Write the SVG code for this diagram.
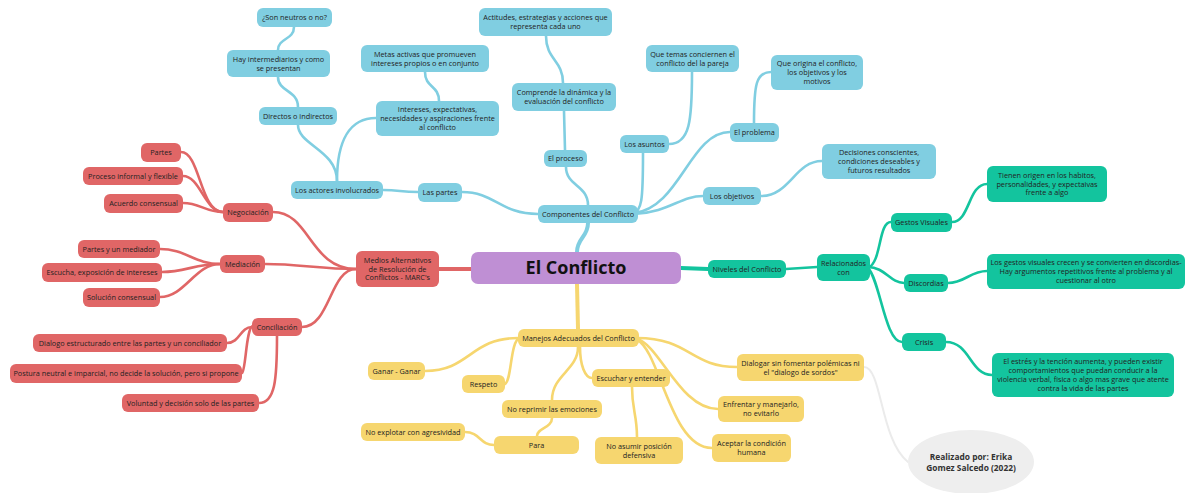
<svg xmlns="http://www.w3.org/2000/svg" width="1188" height="493" viewBox="0 0 1188 493">
<style>
text{font-family:"Open Sans","Noto Sans","Liberation Sans",sans-serif;font-size:7.3px;fill:#222;text-anchor:middle}
.b rect{fill:#80cee1}
.r rect{fill:#e06666}
.g rect{fill:#13c49e}
.y rect{fill:#f6d66f}
.c path{fill:none;stroke-linecap:round}
.cb{stroke:#80cee1;stroke-width:2.6}
.cr{stroke:#e06666;stroke-width:2.6}
.cg{stroke:#13c49e;stroke-width:2.6}
.cy{stroke:#f6d66f;stroke-width:2.6}
.cm{stroke-width:4}
.cgr{stroke:#ebebeb;stroke-width:2}
</style>
<rect width="1188" height="493" fill="#ffffff"/>
<g id="connectors" class="c">
<path class="cb cm" d="M577 252 C577 238 588 237 588 223"/>
<path class="cb" d="M588 205 C588 185 566 186 566 167"/>
<path class="cb" d="M565 150 L564 111"/>
<path class="cb" d="M563 83 C563 60 546 60 546 36"/>
<path class="cb" d="M632 214 C642 212 643 200 643 153"/>
<path class="cb" d="M669 144 C690 144 692 120 692 72"/>
<path class="cb" d="M634 213 C680 208 690 132 730 132"/>
<path class="cb" d="M754 123 C754 85 756 72 771 72"/>
<path class="cb" d="M634 214 C670 212 680 196 703 196"/>
<path class="cb" d="M761 196 C790 196 795 161 822 161"/>
<path class="cb" d="M538 214 C500 214 495 192 462 192"/>
<path class="cb" d="M418 192 C400 192 400 190 383 190"/>
<path class="cb" d="M337 181 C337 150 298 145 298 125"/>
<path class="cb" d="M337 181 C337 140 350 118 376 118"/>
<path class="cb" d="M298 107 C298 90 278 92 278 77"/>
<path class="cb" d="M278 50 C278 38 294 40 294 27"/>
<path class="cb" d="M439 101 C439 85 425 88 425 72"/>
<path class="cr cm" d="M471 269 L439 269"/>
<path class="cr" d="M356 269 C310 269 310 212 273 212"/>
<path class="cr" d="M356 269 C320 269 300 264 265 264"/>
<path class="cr" d="M356 269 C330 269 330 327 302 327"/>
<path class="cr" d="M223 212 C200 212 200 152 181 152"/>
<path class="cr" d="M223 212 C205 212 200 176 183 176"/>
<path class="cr" d="M223 212 C205 212 200 203 183 203"/>
<path class="cr" d="M220 264 C195 264 185 249 160 249"/>
<path class="cr" d="M220 264 C195 264 185 272 162 272"/>
<path class="cr" d="M220 264 C195 264 185 297 160 297"/>
<path class="cr" d="M252 327 C240 327 240 343 227 343"/>
<path class="cr" d="M253 326 C246 327 246 370 242 373"/>
<path class="cr" d="M277 336 C277 380 275 403 259 403"/>
<path class="cg cm" d="M681 268 L708 269"/>
<path class="cg" d="M786 269 L817 267"/>
<path class="cg" d="M868 268 C882 262 878 222 891 222"/>
<path class="cg" d="M868 267 C885 267 890 283 904 283"/>
<path class="cg" d="M868 268 C880 280 885 342 902 342"/>
<path class="cg" d="M952 222 C970 222 968 184 987 184"/>
<path class="cg" d="M948 283 C965 283 970 271 987 271"/>
<path class="cg" d="M946 342 C970 342 970 375 992 375"/>
<path class="cy cm" d="M577 284 L578 329"/>
<path class="cy" d="M518 338 C470 338 470 371 425 371"/>
<path class="cy" d="M520 338 C510 340 512 380 505 384"/>
<path class="cy" d="M578 347 C578 370 552 375 552 400"/>
<path class="cy" d="M552 418 C552 428 537 428 537 436"/>
<path class="cy" d="M580 347 C580 365 585 378 592 378"/>
<path class="cy" d="M632 387 C632 410 637 415 637 437"/>
<path class="cy" d="M494 445 C480 445 480 432 465 432"/>
<path class="cy" d="M637 338 C690 338 690 367 737 367"/>
<path class="cy" d="M637 339 C660 345 680 409 718 409"/>
<path class="cy" d="M637 340 C660 350 670 448 712 448"/>
<path class="cgr" d="M864 367 C882 367 880 440 908 462"/>
</g>
<g id="root"><rect x="471" y="252" width="210" height="32" rx="7" fill="#bf8fd4"/><text x="576" y="274.3" style="font-size:18px;font-weight:bold;fill:#111">El Conflicto</text></g>
<g class="b">
<g id="n-son"><rect x="257" y="8" width="75" height="19" rx="6"/><text x="294.5" y="20.1">¿Son neutros o no?</text></g>
<g id="n-hay"><rect x="227" y="50" width="103" height="27" rx="6"/><text x="278.5" y="61.7">Hay intermediarios y como</text><text x="278.5" y="70.5">se presentan</text></g>
<g id="n-directos"><rect x="259" y="107" width="78" height="18" rx="6"/><text x="298" y="118.6">Directos o indirectos</text></g>
<g id="n-metas"><rect x="361" y="45" width="128" height="27" rx="6"/><text x="425" y="56.7">Metas activas que promueven</text><text x="425" y="65.5">intereses propios o en conjunto</text></g>
<g id="n-intereses"><rect x="376" y="101" width="123" height="35" rx="6"/><text x="437.5" y="112.3">Intereses, expectativas,</text><text x="437.5" y="121.1">necesidades y aspiraciones frente</text><text x="437.5" y="129.9">al conflicto</text></g>
<g id="n-actitudes"><rect x="479" y="8" width="133" height="28" rx="6"/><text x="545.5" y="20.2">Actitudes, estrategias y acciones que</text><text x="545.5" y="29">representa cada uno</text></g>
<g id="n-comprende"><rect x="512" y="83" width="104" height="28" rx="6"/><text x="564" y="95.2">Comprende la dinámica y la</text><text x="564" y="104">evaluación del conflicto</text></g>
<g id="n-proceso"><rect x="544" y="150" width="43" height="17" rx="6"/><text x="565.5" y="161.1">El proceso</text></g>
<g id="n-temas"><rect x="646" y="45" width="93" height="27" rx="6"/><text x="692.5" y="56.7">Que temas conciernen el</text><text x="692.5" y="65.5">conflicto del la pareja</text></g>
<g id="n-origina"><rect x="771" y="55" width="92" height="35" rx="6"/><text x="817" y="66.3">Que origina el conflicto,</text><text x="817" y="75.1">los objetivos y los</text><text x="817" y="83.9">motivos</text></g>
<g id="n-problema"><rect x="730" y="123" width="49" height="19" rx="6"/><text x="754.5" y="135.1">El problema</text></g>
<g id="n-asuntos"><rect x="620" y="135" width="49" height="18" rx="6"/><text x="644.5" y="146.6">Los asuntos</text></g>
<g id="n-decisiones"><rect x="822" y="144" width="114" height="35" rx="6"/><text x="879" y="155.3">Decisiones conscientes,</text><text x="879" y="164.1">condiciones deseables y</text><text x="879" y="172.9">futuros resultados</text></g>
<g id="n-objetivos"><rect x="703" y="187" width="58" height="18" rx="6"/><text x="732" y="198.6">Los objetivos</text></g>
<g id="n-componentes"><rect x="538" y="205" width="100" height="18" rx="6"/><text x="588" y="216.6">Componentes del Conflicto</text></g>
<g id="n-partes"><rect x="418" y="183" width="44" height="19" rx="6"/><text x="440" y="195.1">Las partes</text></g>
<g id="n-actores"><rect x="291" y="181" width="92" height="18" rx="6"/><text x="337" y="192.6">Los actores involucrados</text></g>
</g>
<g class="r">
<g id="n-marc"><rect x="356" y="251" width="83" height="36" rx="6"/><text x="397.5" y="262.8">Medios Alternativos</text><text x="397.5" y="271.6">de Resolución de</text><text x="397.5" y="280.4">Conflictos - MARC's</text></g>
<g id="n-negociacion"><rect x="223" y="203" width="50" height="19" rx="6"/><text x="248" y="215.1">Negociación</text></g>
<g id="n-partes2"><rect x="141" y="143" width="40" height="19" rx="6"/><text x="161" y="155.1">Partes</text></g>
<g id="n-informal"><rect x="83" y="167" width="100" height="18" rx="6"/><text x="133" y="178.6">Proceso informal y flexible</text></g>
<g id="n-acuerdo"><rect x="104" y="194" width="79" height="19" rx="6"/><text x="143.5" y="206.1">Acuerdo consensual</text></g>
<g id="n-mediacion"><rect x="220" y="255" width="45" height="18" rx="6"/><text x="242.5" y="266.6">Mediación</text></g>
<g id="n-mediador"><rect x="78" y="240" width="82" height="18" rx="6"/><text x="119" y="251.6">Partes y un mediador</text></g>
<g id="n-escucha"><rect x="42" y="263" width="120" height="19" rx="6"/><text x="102" y="275.1">Escucha, exposición de intereses</text></g>
<g id="n-solucion"><rect x="83" y="288" width="77" height="19" rx="6"/><text x="121.5" y="300.1">Solución consensual</text></g>
<g id="n-conciliacion"><rect x="252" y="318" width="50" height="18" rx="6"/><text x="277" y="329.6">Conciliación</text></g>
<g id="n-dialogo"><rect x="33" y="334" width="194" height="18" rx="6"/><text x="130" y="345.6">Dialogo estructurado entre las partes y un conciliador</text></g>
<g id="n-postura"><rect x="10" y="364" width="232" height="19" rx="6"/><text x="126" y="376.1">Postura neutral e imparcial, no decide la solución, pero si propone</text></g>
<g id="n-voluntad"><rect x="122" y="394" width="137" height="18" rx="6"/><text x="190.5" y="405.6">Voluntad y decisión solo de las partes</text></g>
</g>
<g class="g">
<g id="n-niveles"><rect x="708" y="260" width="78" height="18" rx="6"/><text x="747" y="271.6">Niveles del Conflicto</text></g>
<g id="n-relacionados"><rect x="817" y="254" width="53" height="27" rx="6"/><text x="843.5" y="265.7">Relacionados</text><text x="843.5" y="274.5">con</text></g>
<g id="n-gestos"><rect x="891" y="213" width="61" height="19" rx="6"/><text x="921.5" y="225.1">Gestos Visuales</text></g>
<g id="n-tienen"><rect x="987" y="166" width="120" height="36" rx="6"/><text x="1047" y="177.8">Tienen origen en los habitos,</text><text x="1047" y="186.6">personalidades, y expectaivas</text><text x="1047" y="195.4">frente a algo</text></g>
<g id="n-discordias"><rect x="904" y="274" width="44" height="18" rx="6"/><text x="926" y="285.6">Discordias</text></g>
<g id="n-losgestos"><rect x="987" y="254" width="198" height="35" rx="6"/><text x="1086" y="265.3">Los gestos visuales crecen y se convierten en discordias-</text><text x="1086" y="274.1">Hay argumentos repetitivos frente al problema y al</text><text x="1086" y="282.9">cuestionar al otro</text></g>
<g id="n-crisis"><rect x="902" y="333" width="44" height="18" rx="6"/><text x="924" y="344.6">Crisis</text></g>
<g id="n-estres"><rect x="992" y="353" width="182" height="44" rx="6"/><text x="1083" y="364.4">El estrés y la tención aumenta, y pueden existir</text><text x="1083" y="373.2">comportamientos que puedan conducir a la</text><text x="1083" y="382">violencia verbal, fisica o algo mas grave que atente</text><text x="1083" y="390.8">contra la vida de las partes</text></g>
</g>
<g class="y">
<g id="n-manejos"><rect x="518" y="329" width="121" height="18" rx="6"/><text x="578.5" y="340.6">Manejos Adecuados del Conflicto</text></g>
<g id="n-ganar"><rect x="368" y="362" width="57" height="18" rx="6"/><text x="396.5" y="373.6">Ganar - Ganar</text></g>
<g id="n-respeto"><rect x="462" y="375" width="43" height="18" rx="6"/><text x="483.5" y="386.6">Respeto</text></g>
<g id="n-reprimir"><rect x="502" y="400" width="100" height="18" rx="6"/><text x="552" y="411.6">No reprimir las emociones</text></g>
<g id="n-para"><rect x="494" y="436" width="85" height="18" rx="6"/><text x="536.5" y="447.6">Para</text></g>
<g id="n-explotar"><rect x="361" y="423" width="104" height="18" rx="6"/><text x="413" y="434.6">No explotar con agresividad</text></g>
<g id="n-escuchar"><rect x="592" y="369" width="78" height="18" rx="6"/><text x="631" y="380.6">Escuchar y entender</text></g>
<g id="n-asumir"><rect x="595" y="437" width="88" height="27" rx="6"/><text x="639" y="448.7">No asumir posición</text><text x="639" y="457.5">defensiva</text></g>
<g id="n-dialogar"><rect x="737" y="354" width="127" height="27" rx="6"/><text x="800.5" y="365.7">Dialogar sin fomentar polémicas ni</text><text x="800.5" y="374.5">el "dialogo de sordos"</text></g>
<g id="n-enfrentar"><rect x="718" y="396" width="86" height="26" rx="6"/><text x="761" y="407.2">Enfrentar y manejarlo,</text><text x="761" y="416">no evitarlo</text></g>
<g id="n-aceptar"><rect x="712" y="434" width="79" height="28" rx="6"/><text x="751.5" y="446.2">Aceptar la condición</text><text x="751.5" y="455">humana</text></g>
</g>
<g id="n-autor"><ellipse cx="971" cy="462" rx="63" ry="32" fill="#eeeeee"/><text x="971" y="459.5" style="font-size:8.4px;font-weight:bold;fill:#333">Realizado por: Erika</text><text x="971" y="470.5" style="font-size:8.4px;font-weight:bold;fill:#333">Gomez Salcedo (2022)</text></g>
</svg>
